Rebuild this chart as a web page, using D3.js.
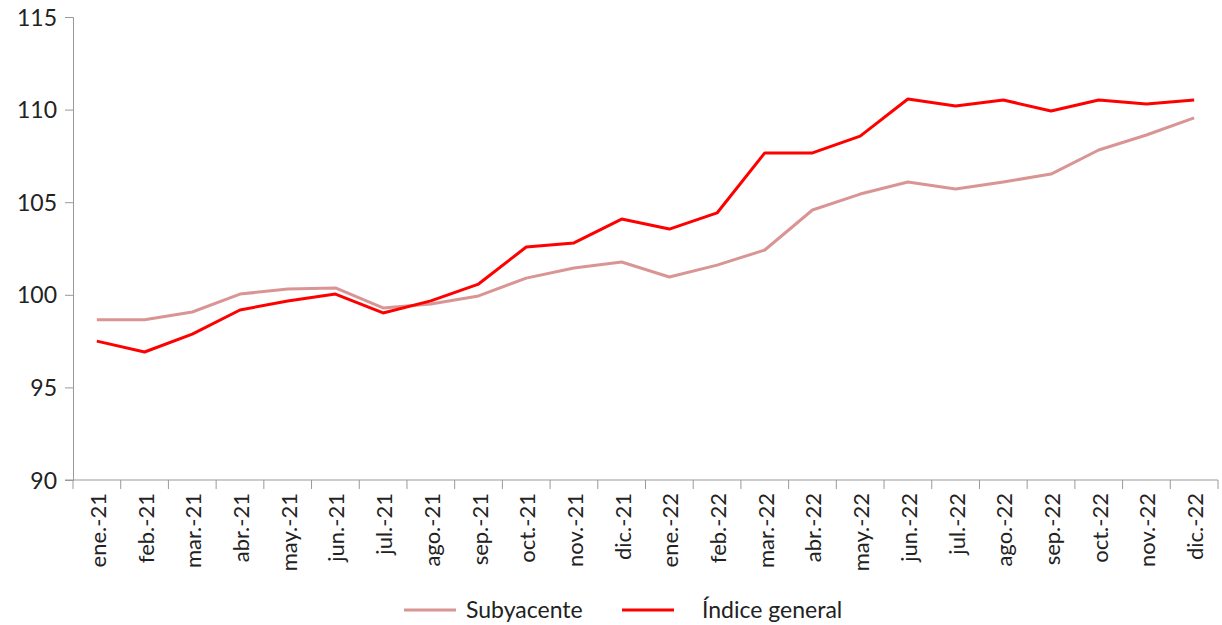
<!DOCTYPE html>
<html>
<head>
    <meta charset="UTF-8">
    <title>IPC</title>
    <style>
        body { margin: 0; background: #fff; }
        svg text { font-family: "Lato", "Open Sans", sans-serif; fill: #222; }
    </style>
</head>
<body>
    <script src="https://cdn.jsdelivr.net/npm/d3@7"></script>
    <svg id="chart" width="1222" height="625"></svg>

    <script>
        // datos
        const meses = ["ene.-21", "feb.-21", "mar.-21", "abr.-21", "may.-21", "jun.-21", "jul.-21", "ago.-21",
            "sep.-21", "oct.-21", "nov.-21", "dic.-21", "ene.-22", "feb.-22", "mar.-22", "abr.-22",
            "may.-22", "jun.-22", "jul.-22", "ago.-22", "sep.-22", "oct.-22", "nov.-22", "dic.-22"];
        const subyacente = [98.65, 98.65, 99.07, 100.04, 100.31, 100.37, 99.29, 99.5, 99.94, 100.9, 101.45, 101.77,
            100.96, 101.6, 102.42, 104.58, 105.44, 106.09, 105.71, 106.09, 106.52, 107.82, 108.63, 109.55];
        const indiceGeneral = [97.5, 96.91, 97.88, 99.18, 99.67, 100.04, 99.02, 99.67, 100.58, 102.58, 102.8, 104.09,
            103.55, 104.42, 107.66, 107.66, 108.57, 110.57, 110.19, 110.52, 109.92, 110.52, 110.3, 110.52];
        const yTicks = [90, 95, 100, 105, 110, 115];
        const series = [
            { name: "Subyacente", values: subyacente, color: "#d99594" },
            { name: "Índice general", values: indiceGeneral, color: "#ff0000" }
        ];

        const svg = d3.select("#chart");
        const mLeft = 73, mRight = 1218, mTop = 17, mBottom = 480;

        const x = d3.scaleBand().domain(meses).range([mLeft, mRight]);
        const y = d3.scaleLinear().domain([90, 115]).range([mBottom, mTop]);

        // eje y
        const yAxis = svg.append("g")
            .attr("transform", `translate(${mLeft},0)`)
            .call(d3.axisLeft(y).tickValues(yTicks).tickSize(8).tickPadding(8));
        yAxis.select(".domain").attr("stroke", "#999");
        yAxis.selectAll(".tick line").attr("stroke", "#999");
        yAxis.selectAll(".tick text").style("font-size", "23px").attr("dy", "0.35em");

        // eje x, las marcas van en los bordes de cada categoría
        const xAxis = svg.append("g")
            .attr("transform", `translate(0,${mBottom})`);
        xAxis.append("line")
            .attr("x1", mLeft - 8).attr("x2", mRight)
            .attr("stroke", "#999");
        xAxis.selectAll(".sep")
            .data(meses.concat(["fin"]))
            .join("line")
            .attr("class", "sep")
            .attr("x1", (d, i) => mLeft + i * x.step())
            .attr("x2", (d, i) => mLeft + i * x.step())
            .attr("y1", 0).attr("y2", 9)
            .attr("stroke", "#999");
        xAxis.selectAll(".lbl")
            .data(meses)
            .join("text")
            .attr("class", "lbl")
            .attr("transform", d => `translate(${x(d) + x.bandwidth() / 2 + 9},13) rotate(-90)`)
            .attr("text-anchor", "end")
            .style("font-size", "22px")
            .text(d => d);

        // líneas
        const line = d3.line()
            .x((d, i) => x(meses[i]) + x.bandwidth() / 2)
            .y(d => y(d));

        svg.selectAll(".serie")
            .data(series)
            .join("path")
            .attr("class", "serie")
            .attr("fill", "none")
            .attr("stroke", d => d.color)
            .attr("stroke-width", 3)
            .attr("stroke-linejoin", "round")
            .attr("d", d => line(d.values));

        // leyenda
        const legendPos = [{ lx: 404, tx: 466 }, { lx: 622, tx: 702 }];
        const legend = svg.selectAll(".leg")
            .data(series)
            .join("g")
            .attr("class", "leg");
        legend.append("line")
            .attr("x1", (d, i) => legendPos[i].lx)
            .attr("x2", (d, i) => legendPos[i].lx + 52)
            .attr("y1", 610).attr("y2", 610)
            .attr("stroke", d => d.color)
            .attr("stroke-width", 3);
        legend.append("text")
            .attr("x", (d, i) => legendPos[i].tx)
            .attr("y", 610)
            .attr("dy", "0.35em")
            .style("font-size", "23px")
            .text(d => d.name);
    </script>
</body>
</html>
